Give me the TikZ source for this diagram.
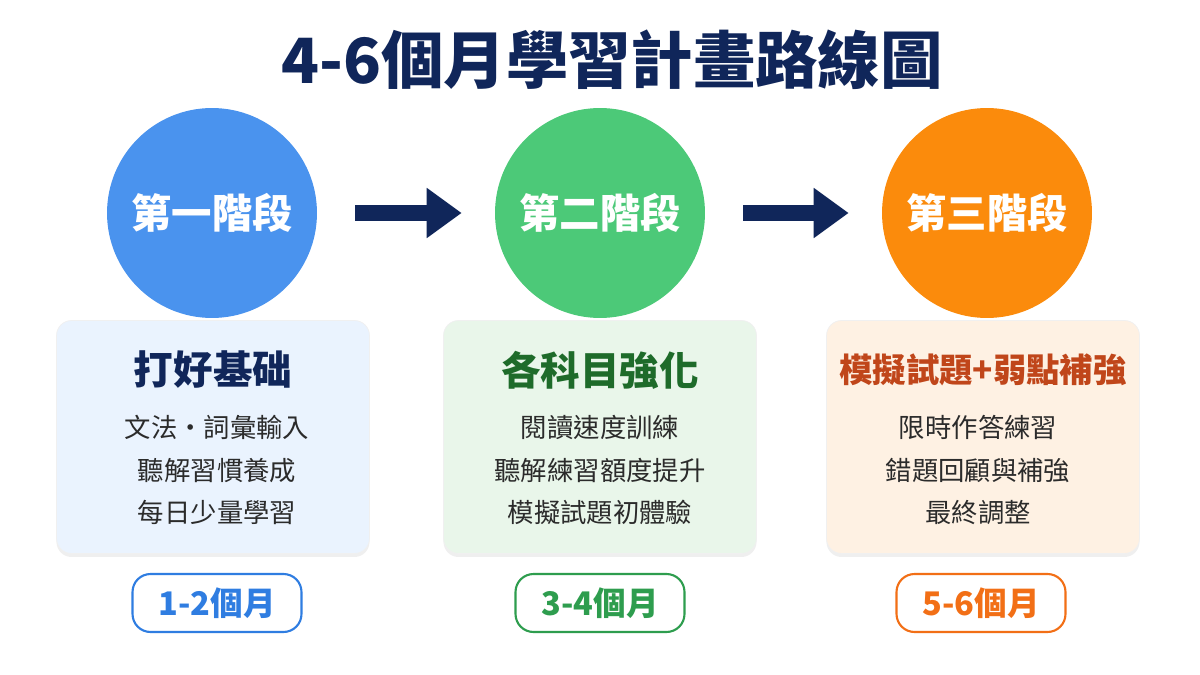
\documentclass[tikz,border=0pt]{standalone}
\usepackage{fontspec}
\setmainfont{Noto Sans CJK TC}
\usepackage{tikz}
\usetikzlibrary{arrows.meta, positioning, shadows}
\usepackage{xcolor}
\definecolor{navy}{HTML}{10265A}
\definecolor{cblue}{HTML}{4A93EE}
\definecolor{cgreen}{HTML}{4CC978}
\definecolor{corange}{HTML}{FB8B0C}
\definecolor{fblue}{HTML}{EAF3FE}
\definecolor{fgreen}{HTML}{E9F6EA}
\definecolor{forange}{HTML}{FEF1E3}
\definecolor{pblue}{HTML}{2F7DE1}
\definecolor{pgreen}{HTML}{2E9D4E}
\definecolor{porange}{HTML}{F26F16}
\definecolor{hgreen}{HTML}{1E6B2A}
\definecolor{horange}{HTML}{C0461A}
\definecolor{body}{HTML}{2B2B2B}

\begin{document}
\begin{tikzpicture}[
  x=0.02cm, y=-0.02cm,
  stage/.style={circle, minimum size=4.2cm, inner sep=0pt, text=white,
    font=\bfseries\fontsize{23}{26}\selectfont},
  card/.style={draw=black!6, line width=0.4pt, rounded corners=0.3cm,
    minimum width=6.26cm, minimum height=4.66cm,
    drop shadow={opacity=0.12, shadow xshift=0pt, shadow yshift=-2pt}},
  head/.style={font=\bfseries\fontsize{22.5}{26}\selectfont},
  lines/.style={align=center, text=body, font=\fontsize{15}{24}\selectfont},
  pill/.style={draw, line width=1.2pt, rounded corners=0.36cm, fill=white,
    minimum width=3.38cm, minimum height=1.16cm,
    font=\bfseries\fontsize{18.5}{21}\selectfont},
  arr/.style={navy, line width=9pt, -{Triangle[length=0.7cm, width=0.96cm]},
    shorten <=0.76cm, shorten >=0.66cm}
]
  \useasboundingbox (0,0) rectangle (1200,675);
  \fill[white] (0,0) rectangle (1200,675);

  \node[text=navy, font=\bfseries\fontsize{35.5}{40}\selectfont] (title) at (612,60) {4-6個月學習計畫路線圖};

  % stages
  \node[stage, fill=cblue] (s1) at (212,213) {第一階段};
  \node[stage, fill=cgreen] (s2) at (600,213) {第二階段};
  \node[stage, fill=corange] (s3) at (987,213) {第三階段};
  \draw[arr] (s1) -- (s2);
  \draw[arr] (s2) -- (s3);

  % cards
  \node[card, fill=fblue] (c1) at (213,437) {};
  \node[card, fill=fgreen] (c2) at (600,437) {};
  \node[card, fill=forange] (c3) at (983,437) {};

  \node[head, text=navy] (h1) at (213,370) {打好基础};
  \node[head, text=hgreen] (h2) at (600,370) {各科目強化};
  \node[head, text=horange, font=\bfseries\fontsize{19}{22}\selectfont] (h3) at (983,370) {模擬試題+弱點補強};

  \node[lines] (l1) at (217,470) {文法・詞彙輸入\\聽解習慣養成\\每日少量學習};
  \node[lines] (l2) at (600,470) {閱讀速度訓練\\聽解練習額度提升\\模擬試題初體驗};
  \node[lines] (l3) at (978,470) {限時作答練習\\錯題回顧與補強\\最終調整};

  % durations
  \node[pill, draw=pblue, text=pblue] (p1) at (217,603) {1-2個月};
  \node[pill, draw=pgreen, text=pgreen] (p2) at (600,603) {3-4個月};
  \node[pill, draw=porange, text=porange] (p3) at (981,603) {5-6個月};
\end{tikzpicture}
\end{document}
